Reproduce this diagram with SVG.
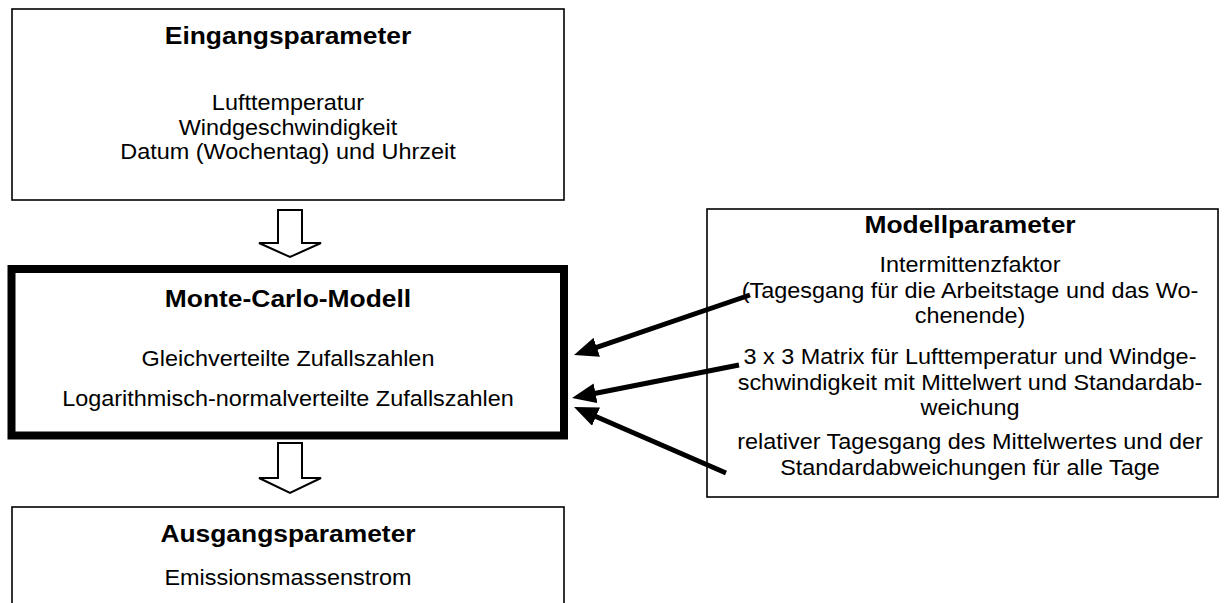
<svg xmlns="http://www.w3.org/2000/svg" width="1227" height="603" viewBox="0 0 1227 603">
<style>
  text { font-family: "Liberation Sans", Arial, sans-serif; fill: #000; text-anchor: middle; }
  .t { font-size: 24px; font-weight: bold; }
  .b { font-size: 21.3px; }
  .box { fill: #fff; stroke: #000; stroke-width: 1.6; }
  .thick { fill: #fff; stroke: #000; stroke-width: 8; }
  .block { fill: #fff; stroke: #000; stroke-width: 2; stroke-linejoin: miter; }
  .conn { stroke: #000; stroke-width: 5; fill: none; }
</style>
<defs>
  <marker id="ah" markerUnits="userSpaceOnUse" markerWidth="24" markerHeight="20" refX="14" refY="10" orient="auto">
    <path d="M0,0 L24,10 L0,20 z" fill="#000"/>
  </marker>
</defs>
<rect width="1227" height="603" fill="#fff"/>

<g id="eingang">
  <rect class="box" x="12" y="9" width="552" height="191" stroke="#222" stroke-width="2"/>
  <g transform="translate(288 0) scale(1.1 1)">
    <text class="t" x="0" y="44">Eingangsparameter</text>
    <text class="b" x="0" y="110">Lufttemperatur</text>
    <text class="b" x="0" y="135">Windgeschwindigkeit</text>
    <text class="b" x="0" y="159">Datum (Wochentag) und Uhrzeit</text>
  </g>
</g>

<g id="montecarlo">
  <rect class="thick" x="11.5" y="269" width="552.5" height="166.5"/>
  <g transform="translate(288 0) scale(1.1 1)">
    <text class="t" x="0" y="307">Monte-Carlo-Modell</text>
    <text class="b" x="0" y="366">Gleichverteilte Zufallszahlen</text>
    <text class="b" x="0" y="406">Logarithmisch-normalverteilte Zufallszahlen</text>
  </g>
</g>

<g id="ausgang">
  <rect class="box" x="12" y="507" width="552" height="120"/>
  <g transform="translate(288 0) scale(1.1 1)">
    <text class="t" x="0" y="542">Ausgangsparameter</text>
    <text class="b" x="0" y="585">Emissionsmassenstrom</text>
  </g>
</g>

<g id="modell">
  <rect class="box" x="707" y="209" width="511" height="288"/>
  <g transform="translate(970 0) scale(1.1 1)">
    <text class="t" x="0" y="233">Modellparameter</text>
    <text class="b" x="0" y="272">Intermittenzfaktor</text>
    <text class="b" x="0" y="298">(Tagesgang für die Arbeitstage und das Wo-</text>
    <text class="b" x="0" y="323">chenende)</text>
    <text class="b" x="0" y="364">3 x 3 Matrix für Lufttemperatur und Windge-</text>
    <text class="b" x="0" y="390">schwindigkeit mit Mittelwert und Standardab-</text>
    <text class="b" x="0" y="415">weichung</text>
    <text class="b" x="0" y="449">relativer Tagesgang des Mittelwertes und der</text>
    <text class="b" x="0" y="475">Standardabweichungen für alle Tage</text>
  </g>
</g>

<g id="connectors">
  <path class="block" d="M278,210 L302,210 L302,243 L321,243 L290,257 L259,243 L278,243 Z"/>
  <path class="block" d="M278,443 L302,443 L302,478 L321,478 L290,493 L259,478 L278,478 Z"/>
  <line class="conn" x1="750" y1="295" x2="583.5" y2="351.8" marker-end="url(#ah)"/>
  <line class="conn" x1="739" y1="365" x2="581.8" y2="396" marker-end="url(#ah)"/>
  <line class="conn" x1="726" y1="473" x2="583.2" y2="411" marker-end="url(#ah)"/>
</g>
</svg>
